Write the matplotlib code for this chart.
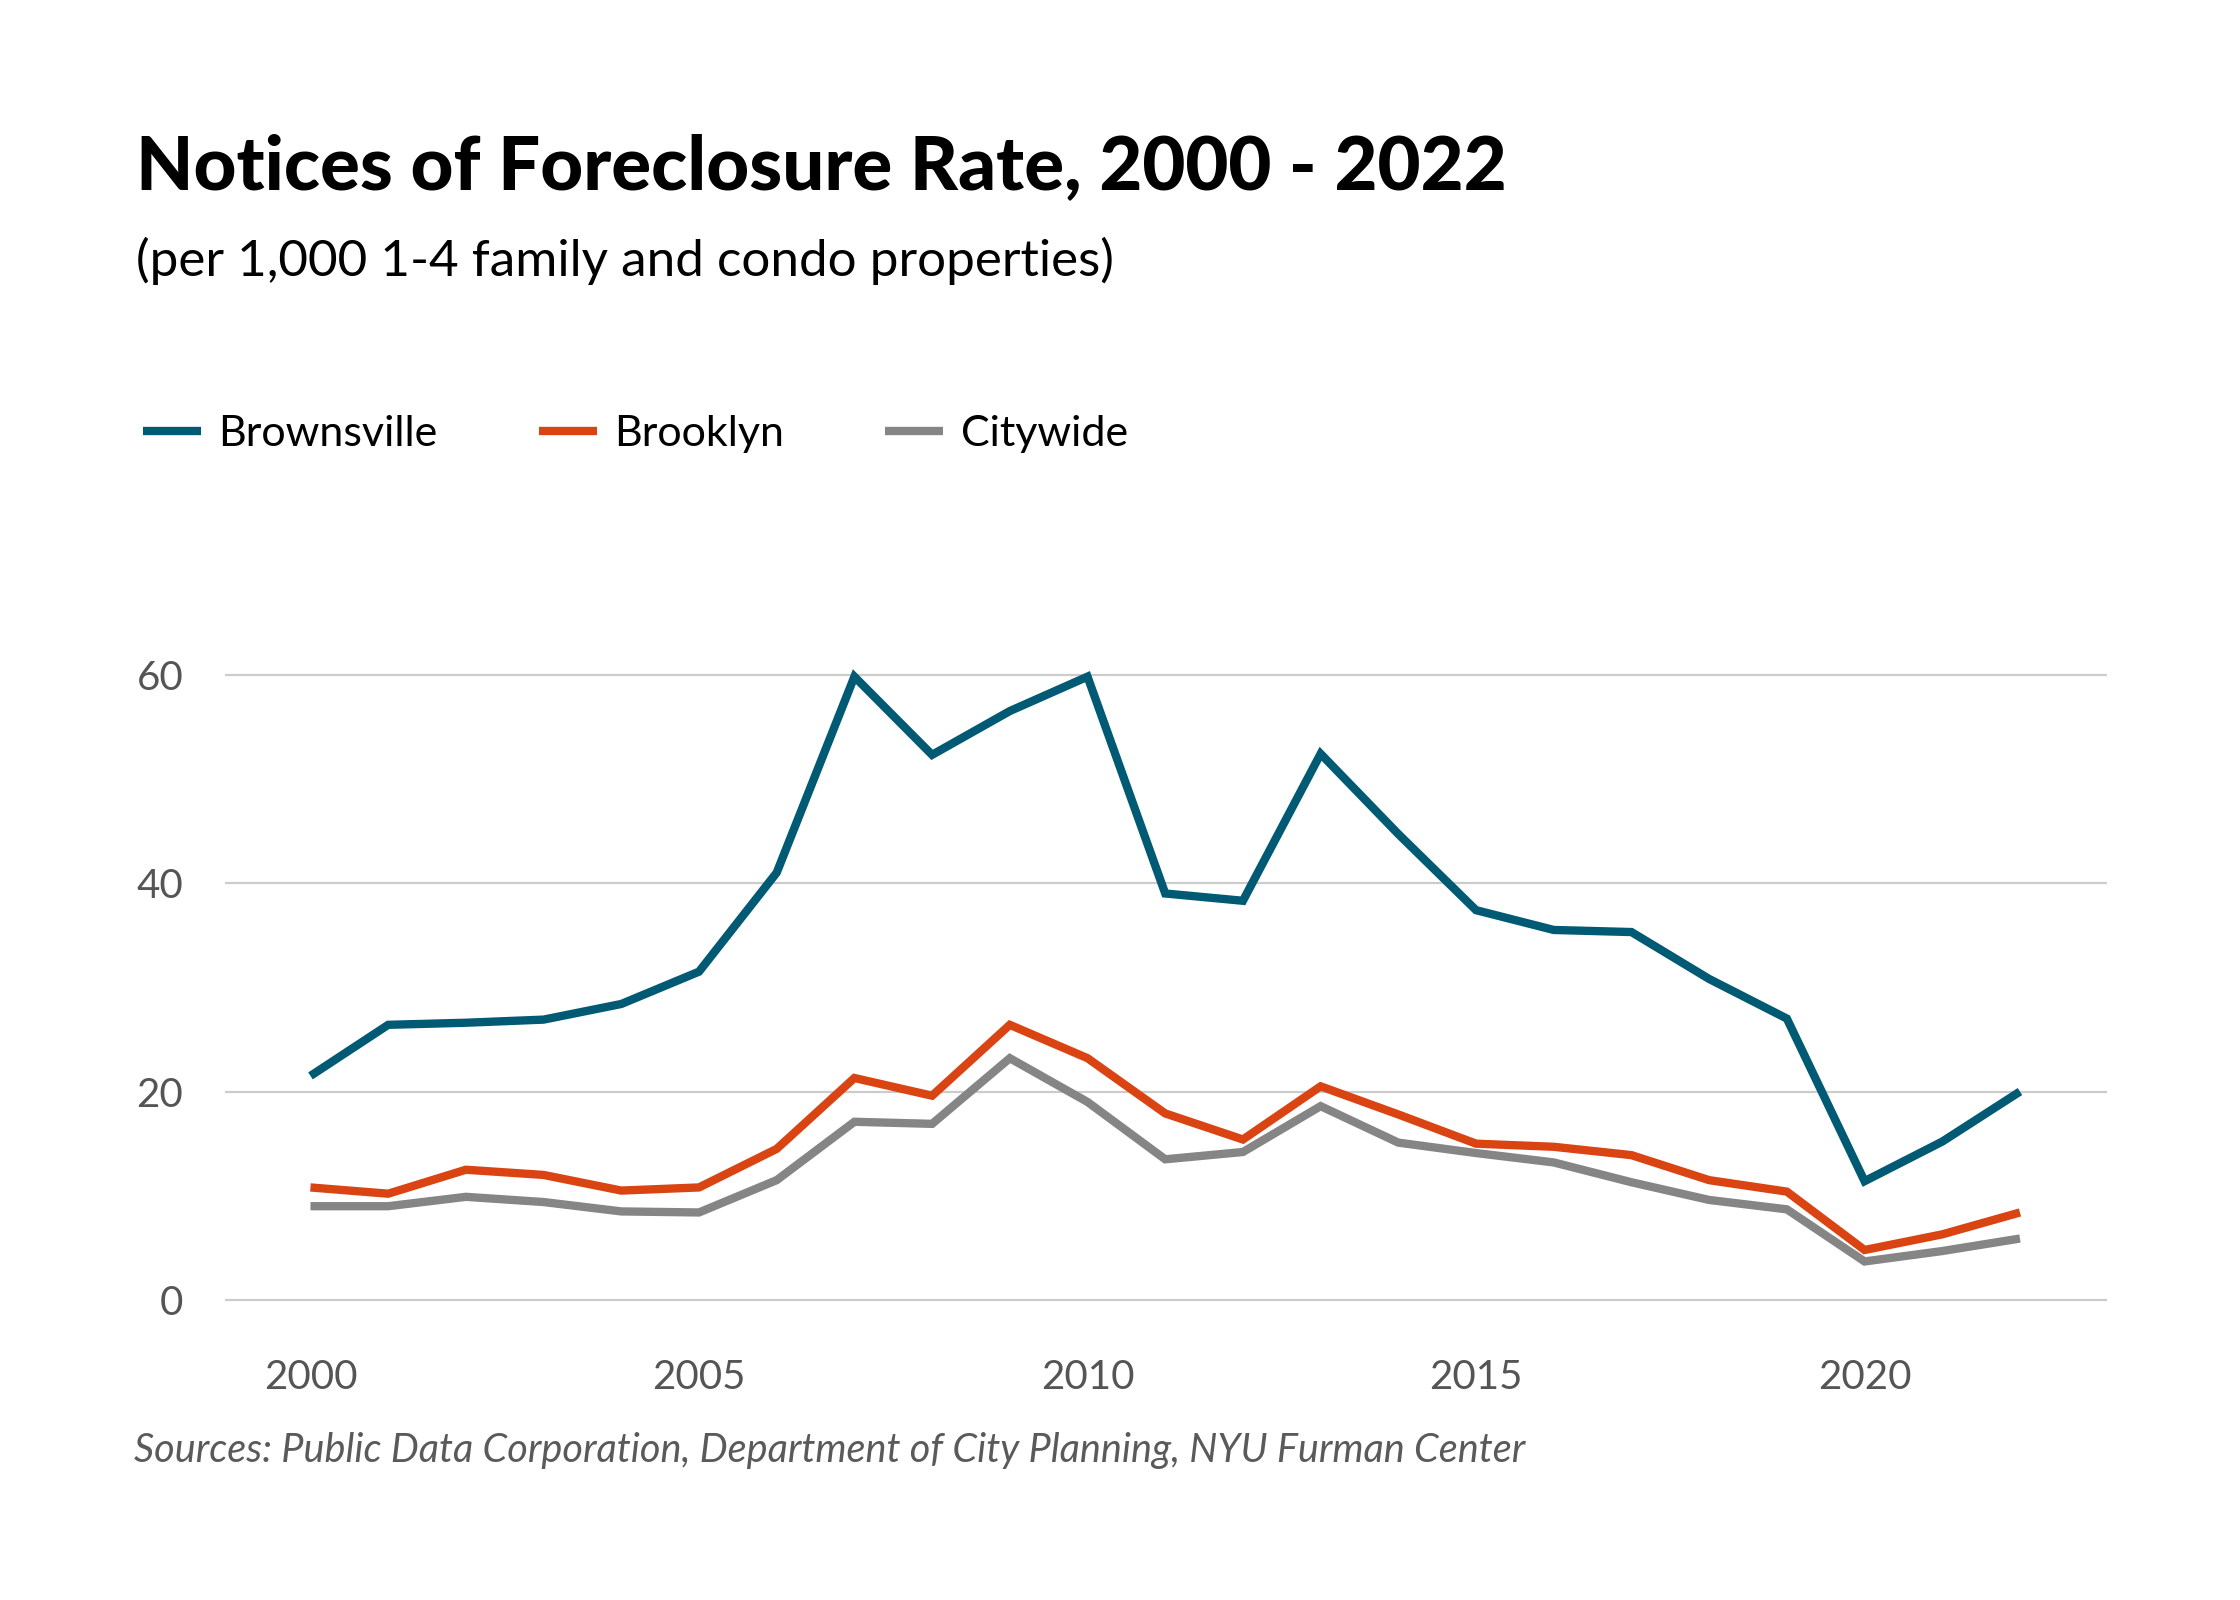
import matplotlib
matplotlib.use("Agg")
import matplotlib.pyplot as plt

years = list(range(2000, 2023))
brownsville = [21.5, 26.4, 26.6, 26.9, 28.4, 31.5, 41.0, 59.8, 52.3, 56.5, 59.8,
               39.0, 38.3, 52.4, 44.7, 37.4, 35.5, 35.3, 30.8, 27.0, 11.4, 15.2, 20.0]
brooklyn = [10.8, 10.2, 12.5, 12.0, 10.5, 10.8, 14.5, 21.3, 19.6, 26.4, 23.2,
            17.9, 15.4, 20.5, 17.8, 15.0, 14.7, 13.9, 11.5, 10.4, 4.8, 6.3, 8.4]
citywide = [9.0, 9.0, 9.9, 9.4, 8.5, 8.4, 11.5, 17.1, 16.9, 23.2, 19.0,
            13.5, 14.2, 18.6, 15.1, 14.1, 13.2, 11.3, 9.6, 8.7, 3.7, 4.7, 5.9]
series_names = ["Brownsville", "Brooklyn", "Citywide"]
series_colors = ["#005a73", "#d94412", "#858585"]
x_ticks = [2000, 2005, 2010, 2015, 2020]
y_ticks = [0, 20, 40, 60]

title = "Notices of Foreclosure Rate, 2000 - 2022"
subtitle = "(per 1,000 1-4 family and condo properties)"
source = "Sources: Public Data Corporation, Department of City Planning, NYU Furman Center"

W, H = 2240, 1600
fig = plt.figure(figsize=(W / 200, H / 200), dpi=200)
fig.patch.set_facecolor("white")

FONT = ["Lato", "DejaVu Sans"]
LW = 3.0

ax = fig.add_axes([225 / W, 1 - 1331.3 / H, (2107 - 225) / W, (1331.3 - 643.3) / H])
ax.set_xlim(1998.9, 2023.12)
ax.set_ylim(-3, 63)

for vals, name, col in zip([brownsville, brooklyn, citywide], series_names, series_colors):
    ax.plot(years, vals, color=col, lw=LW, label=name, solid_joinstyle="miter",
            solid_capstyle="butt", zorder=3)

ax.set_yticks(y_ticks)
ax.set_xticks(x_ticks)
ax.grid(axis="y", color="#cccccc", lw=0.8)
ax.grid(axis="x", visible=False)
for s in ax.spines.values():
    s.set_visible(False)
ax.tick_params(axis="both", length=0, labelcolor="#555555", labelsize=14.5)
ax.tick_params(axis="x", pad=10)
ax.tick_params(axis="y", pad=15)
for lab in ax.get_xticklabels() + ax.get_yticklabels():
    lab.set_family(FONT)

leg = ax.legend(loc="center left", bbox_to_anchor=(143 / W, 1 - 434 / H),
                bbox_transform=fig.transFigure, ncol=3, frameon=False,
                prop={"family": FONT, "size": 15.5}, handlelength=1.35,
                handletextpad=0.4, columnspacing=2.35, borderaxespad=0, borderpad=0)
for h in leg.get_lines():
    h.set_linewidth(LW)
    h.set_solid_capstyle("butt")

fig.text(136 / W, 1 - 189 / H, title, family=FONT, weight="black", fontsize=26.8,
         color="black", va="baseline", ha="left")
fig.text(136 / W, 1 - 276 / H, subtitle, family=FONT, fontsize=18.4,
         color="black", va="baseline", ha="left")
fig.text(134 / W, 1 - 1462 / H, source, family=FONT, style="italic",
         fontsize=14.25, color="#5a5a5a", va="baseline", ha="left")

fig.savefig("out.png", dpi=200, facecolor="white")
